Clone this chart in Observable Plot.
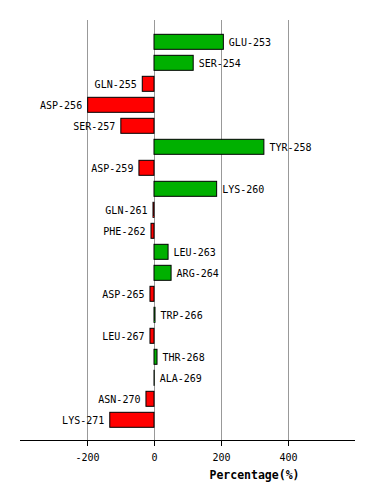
<!DOCTYPE html>
<html>
<head>
<meta charset="utf-8">
<script src="https://cdn.jsdelivr.net/npm/d3@7"></script>
<script src="https://cdn.jsdelivr.net/npm/@observablehq/plot@0.6"></script>
<style>
  body { margin: 0; background: #fff; }
  svg { display: block; }
</style>
</head>
<body>
<div id="chart"></div>
<script>
const residues = ["GLU-253","SER-254","GLN-255","ASP-256","SER-257","TYR-258","ASP-259","LYS-260","GLN-261","PHE-262","LEU-263","ARG-264","ASP-265","TRP-266","LEU-267","THR-268","ALA-269","ASN-270","LYS-271"];
const percentages = [207,117,-35,-198,-99,328,-45,187,-3,-9,42,51,-12,3,-12,9,0.5,-24,-132];
const xTicks = [-200, 0, 200, 400];
const xDomain = [-400, 600];
const axisLabel = "Percentage(%)";

const data = residues.map((name, i) => ({name, value: percentages[i]}));
const pos = data.filter(d => d.value >= 0);
const neg = data.filter(d => d.value < 0);
const font = "DejaVu Sans Mono, monospace";

const chart = Plot.plot({
  width: 374,
  height: 500,
  marginTop: 20,
  marginBottom: 60,
  marginLeft: 20,
  marginRight: 19,
  style: {fontFamily: font, fontSize: "10px", background: "#fff", color: "#000"},
  x: {domain: xDomain, ticks: xTicks, tickFormat: d => String(d), label: null, tickSize: 6, tickPadding: 7, grid: false},
  y: {domain: residues, paddingInner: 0.2857, paddingOuter: 0.643, align: 0.53, round: false, axis: null},
  marks: [
    Plot.ruleX(xTicks, {stroke: "#999", strokeWidth: 1, strokeOpacity: 1}),
    Plot.barX(data, {x: "value", y: "name", fill: d => d.value >= 0 ? "#00b000" : "#ff0000", stroke: "#000", strokeWidth: 1}),
    Plot.text(pos, {x: "value", y: "name", text: "name", textAnchor: "start", dx: 5, fill: "#000", fontSize: 10}),
    Plot.text(neg, {x: "value", y: "name", text: "name", textAnchor: "end", dx: -6, fill: "#000", fontSize: 10})
  ]
});

document.getElementById("chart").appendChild(chart);
const svg = d3.select(chart);

const xs = chart.scale("x");
const x0 = xs.apply(xDomain[0]), x1 = xs.apply(xDomain[1]);
svg.append("line")
  .attr("x1", x0).attr("x2", x1)
  .attr("y1", 440.5).attr("y2", 440.5)
  .attr("stroke", "#000").attr("stroke-width", 1);
svg.append("text")
  .attr("x", (xs.apply(0) + x1) / 2)
  .attr("y", 479)
  .attr("text-anchor", "middle")
  .attr("font-family", font)
  .attr("font-weight", "bold")
  .attr("font-size", "11.5px")
  .attr("fill", "#000")
  .text(axisLabel);
</script>
</body>
</html>
